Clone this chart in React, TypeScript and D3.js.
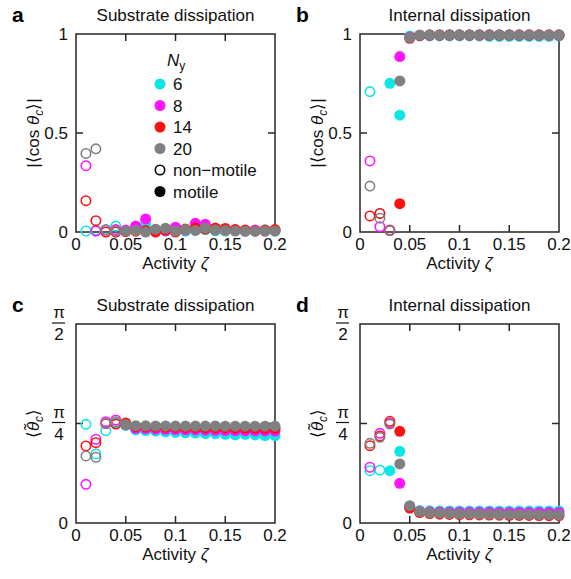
import React from "react";
import * as d3 from "d3";

// Activity values sampled in every panel
const zeta = [0.01, 0.02, 0.03, 0.04, 0.05, 0.06, 0.07, 0.08, 0.09, 0.1, 0.11, 0.12, 0.13, 0.14, 0.15, 0.16, 0.17, 0.18, 0.19, 0.2];

// Channel widths and their colours
const channelWidths = [6, 8, 14, 20];
const channelColors = ["#0ee6e6", "#ff14ff", "#ff1010", "#808080"];

// Onset of motility (points below are drawn hollow)
const substrateMotileFrom = [0.05, 0.05, 0.05, 0.05];
const internalMotileFrom = [0.03, 0.04, 0.04, 0.04];

// |<cos θc>|, substrate dissipation
const subCos6 = [0.005, 0.01, 0.012, 0.03, 0.005, 0.01, 0.04, 0.01, 0.005, 0.01, 0.005, 0.01, 0.012, 0.006, 0.005, 0.01, 0.005, 0.005, 0.01, 0.005];
const subCos8 = [0.335, 0.005, 0.01, 0.012, 0.01, 0.03, 0.066, 0.012, 0.006, 0.024, 0.01, 0.044, 0.039, 0.015, 0.01, 0.01, 0.005, 0.01, 0.005, 0.01];
const subCos14 = [0.158, 0.057, 0.0, 0.0, 0.002, 0.004, 0.008, 0.0, 0.01, 0.0, 0.015, 0.02, 0.015, 0.02, 0.018, 0.012, 0.01, 0.005, 0.01, 0.012];
const subCos20 = [0.397, 0.42, 0.01, 0.005, 0.005, 0.008, 0.0, 0.014, 0.019, 0.005, 0.012, 0.008, 0.02, 0.01, 0.008, 0.005, 0.004, 0.004, 0.005, 0.005];

// |<cos θc>|, internal dissipation
const intCos6 = [0.709, 0.094, 0.751, 0.59, 0.99, 0.99, 0.99, 0.99, 0.99, 0.99, 0.99, 0.99, 0.988, 0.988, 0.988, 0.988, 0.988, 0.988, 0.988, 0.99];
const intCos8 = [0.359, 0.027, 0.007, 0.886, 0.985, 0.993, 0.994, 0.995, 0.995, 0.995, 0.995, 0.995, 0.995, 0.995, 0.995, 0.995, 0.995, 0.995, 0.995, 0.995];
const intCos14 = [0.081, 0.094, 0.01, 0.143, 0.978, 0.993, 0.995, 0.995, 0.995, 0.995, 0.995, 0.995, 0.995, 0.995, 0.995, 0.995, 0.995, 0.995, 0.995, 0.995];
const intCos20 = [0.232, 0.07, 0.007, 0.763, 0.982, 0.995, 0.996, 0.996, 0.996, 0.996, 0.996, 0.996, 0.996, 0.996, 0.996, 0.996, 0.996, 0.996, 0.996, 0.996];

// <θ̃c> in radians, substrate dissipation
const subAng6 = [0.779, 0.545, 0.729, 0.789, 0.77, 0.735, 0.73, 0.725, 0.72, 0.715, 0.712, 0.71, 0.705, 0.705, 0.7, 0.695, 0.7, 0.695, 0.69, 0.69];
const subAng8 = [0.305, 0.661, 0.8, 0.813, 0.775, 0.748, 0.745, 0.742, 0.74, 0.738, 0.736, 0.735, 0.733, 0.732, 0.73, 0.73, 0.728, 0.728, 0.727, 0.726];
const subAng14 = [0.608, 0.634, 0.785, 0.781, 0.79, 0.76, 0.758, 0.756, 0.755, 0.754, 0.753, 0.752, 0.751, 0.75, 0.75, 0.749, 0.748, 0.748, 0.747, 0.747];
const subAng20 = [0.529, 0.519, 0.787, 0.8, 0.777, 0.768, 0.767, 0.766, 0.766, 0.765, 0.765, 0.765, 0.765, 0.765, 0.764, 0.764, 0.764, 0.764, 0.764, 0.764];

// <θ̃c> in radians, internal dissipation
const intAng6 = [0.413, 0.418, 0.413, 0.566, 0.13, 0.098, 0.096, 0.095, 0.095, 0.095, 0.095, 0.095, 0.095, 0.095, 0.095, 0.095, 0.095, 0.095, 0.095, 0.095];
const intAng8 = [0.44, 0.708, 0.79, 0.313, 0.125, 0.092, 0.088, 0.086, 0.085, 0.085, 0.084, 0.084, 0.084, 0.083, 0.083, 0.083, 0.082, 0.082, 0.082, 0.082];
const intAng14 = [0.61, 0.687, 0.803, 0.724, 0.118, 0.082, 0.075, 0.07, 0.068, 0.066, 0.065, 0.064, 0.063, 0.062, 0.061, 0.06, 0.06, 0.059, 0.058, 0.058];
const intAng20 = [0.629, 0.676, 0.781, 0.466, 0.137, 0.09, 0.082, 0.078, 0.075, 0.073, 0.072, 0.071, 0.07, 0.069, 0.068, 0.068, 0.067, 0.066, 0.066, 0.065];

const xTicks = [0, 0.05, 0.1, 0.15, 0.2];
const xTickLabels = ["0", "0.05", "0.1", "0.15", "0.2"];
const cosTicks = [0, 0.5, 1];
const cosTickLabels = ["0", "0.5", "1"];
const angTicks = [0, Math.PI / 4, Math.PI / 2];
const angTickDenoms = ["", "4", "2"];

const FONT = "'Liberation Sans', Arial, Helvetica, sans-serif";
const FRAME = "#262626";

type PanelSpec = {
  letter: string;
  title: string;
  left: number;
  top: number;
  height: number;
  kind: "cos" | "ang";
  series: number[][];
  motileFrom: number[];
};

const PLOT_W = 199;

const panels: PanelSpec[] = [
  { letter: "a", title: "Substrate dissipation", left: 76, top: 34, height: 198, kind: "cos", series: [subCos6, subCos8, subCos14, subCos20], motileFrom: substrateMotileFrom },
  { letter: "b", title: "Internal dissipation", left: 360, top: 34, height: 198, kind: "cos", series: [intCos6, intCos8, intCos14, intCos20], motileFrom: internalMotileFrom },
  { letter: "c", title: "Substrate dissipation", left: 76, top: 324, height: 199, kind: "ang", series: [subAng6, subAng8, subAng14, subAng20], motileFrom: substrateMotileFrom },
  { letter: "d", title: "Internal dissipation", left: 360, top: 324, height: 199, kind: "ang", series: [intAng6, intAng8, intAng14, intAng20], motileFrom: internalMotileFrom },
];

const R = 5.5;
const TICK = 7;

function Panel({ p }: { p: PanelSpec }) {
  const x = d3.scaleLinear().domain([0, 0.2]).range([p.left, p.left + PLOT_W]);
  const yMax = p.kind === "cos" ? 1 : Math.PI / 2;
  const bottom = p.top + p.height;
  const y = d3.scaleLinear().domain([0, yMax]).range([bottom, p.top]);
  const yTicks = p.kind === "cos" ? cosTicks : angTicks;
  const right = p.left + PLOT_W;
  const cx = p.left + PLOT_W / 2;
  const midY = (p.top + bottom) / 2;

  return (
    <g>
      <text x={p.left - 64} y={p.top - 12} fontSize={21} fontWeight="bold" fontFamily={FONT}>{p.letter}</text>
      <text x={cx} y={p.top - 13} fontSize={17} textAnchor="middle" fontFamily={FONT} fill="#111">{p.title}</text>

      {/* frame and inward ticks */}
      <rect x={p.left} y={p.top} width={PLOT_W} height={p.height} fill="none" stroke={FRAME} strokeWidth={1.5} />
      {xTicks.slice(1, -1).map((t) => (
        <g key={"xt" + t}>
          <line x1={x(t)} x2={x(t)} y1={bottom} y2={bottom - TICK} stroke={FRAME} strokeWidth={1.5} />
          <line x1={x(t)} x2={x(t)} y1={p.top} y2={p.top + TICK} stroke={FRAME} strokeWidth={1.5} />
        </g>
      ))}
      {yTicks.slice(1, -1).map((t) => (
        <g key={"yt" + t}>
          <line x1={p.left} x2={p.left + TICK} y1={y(t)} y2={y(t)} stroke={FRAME} strokeWidth={1.5} />
          <line x1={right} x2={right - TICK} y1={y(t)} y2={y(t)} stroke={FRAME} strokeWidth={1.5} />
        </g>
      ))}

      {xTicks.map((t, i) => (
        <text key={"xl" + t} x={x(t)} y={bottom + 18} fontSize={17} textAnchor="middle" fontFamily={FONT} fill="#111">{xTickLabels[i]}</text>
      ))}
      <text x={cx} y={bottom + 37} fontSize={17} textAnchor="middle" fontFamily={FONT} fill="#111">
        Activity <tspan fontStyle="italic">ζ</tspan>
      </text>

      {p.kind === "cos"
        ? yTicks.map((t, i) => (
            <text key={"yl" + t} x={p.left - 8} y={y(t) + 6} fontSize={17} textAnchor="end" fontFamily={FONT} fill="#111">{cosTickLabels[i]}</text>
          ))
        : yTicks.map((t, i) =>
            i === 0 ? (
              <text key={"yl" + t} x={p.left - 8} y={y(t) + 6} fontSize={17} textAnchor="end" fontFamily={FONT} fill="#111">0</text>
            ) : (
              <g key={"yl" + t}>
                <text x={p.left - 17} y={y(t) - 6} fontSize={17} textAnchor="middle" fontFamily={FONT} fill="#111">π</text>
                <line x1={p.left - 24} x2={p.left - 11} y1={y(t) - 1} y2={y(t) - 1} stroke="#111" strokeWidth={1.2} />
                <text x={p.left - 17} y={y(t) + 16} fontSize={17} textAnchor="middle" fontFamily={FONT} fill="#111">{angTickDenoms[i]}</text>
              </g>
            )
          )}

      <g transform={`translate(${p.left - 43},${midY}) rotate(-90)`}>
        {p.kind === "cos" ? (
          <text x={0} y={6} fontSize={17} textAnchor="middle" fontFamily={FONT} fill="#111">
            |⟨cos <tspan fontStyle="italic">θ</tspan><tspan fontStyle="italic" fontSize={12} dy={4}>c</tspan><tspan dy={-4}>⟩|</tspan>
          </text>
        ) : (
          <text x={0} y={6} fontSize={17} textAnchor="middle" fontFamily={FONT} fill="#111">
            ⟨<tspan fontStyle="italic">θ̃</tspan><tspan fontStyle="italic" fontSize={12} dy={4}>c</tspan><tspan dy={-4}>⟩</tspan>
          </text>
        )}
      </g>

      {/* data markers: hollow before motility onset, filled after */}
      {p.series.map((vals, si) => (
        <g key={"s" + si}>
          {vals.map((v, k) => {
            const motile = zeta[k] >= p.motileFrom[si] - 1e-9;
            return motile ? (
              <circle key={k} cx={x(zeta[k])} cy={y(v)} r={R} fill={channelColors[si]} />
            ) : (
              <circle key={k} cx={x(zeta[k])} cy={y(v)} r={R - 0.8} fill="none" stroke={channelColors[si]} strokeWidth={1.6} />
            );
          })}
        </g>
      ))}
    </g>
  );
}

function Legend() {
  const mx = 160;
  const tx = 173;
  const rows = [84, 105.5, 127, 148.5, 170, 191.5];
  return (
    <g fontFamily={FONT} fontSize={17} fill="#111">
      <text x={167} y={66}>
        <tspan fontStyle="italic">N</tspan><tspan fontSize={12} dy={4}>y</tspan>
      </text>
      {channelWidths.map((n, i) => (
        <g key={n}>
          <circle cx={mx} cy={rows[i]} r={R} fill={channelColors[i]} />
          <text x={tx} y={rows[i] + 6}>{n}</text>
        </g>
      ))}
      <circle cx={mx} cy={rows[4]} r={R - 0.8} fill="none" stroke="#000" strokeWidth={1.6} />
      <text x={tx} y={rows[4] + 6}>non−motile</text>
      <circle cx={mx} cy={rows[5]} r={R} fill="#000" />
      <text x={tx} y={rows[5] + 6}>motile</text>
    </g>
  );
}

export default function App() {
  return (
    <svg
      width={571}
      height={579}
      viewBox="0 0 571 579"
      style={{ position: "absolute", left: 0, top: 0, background: "#fff" }}
    >
      <rect width={571} height={579} fill="#fff" />
      {panels.map((p) => (
        <Panel key={p.letter} p={p} />
      ))}
      <Legend />
    </svg>
  );
}
